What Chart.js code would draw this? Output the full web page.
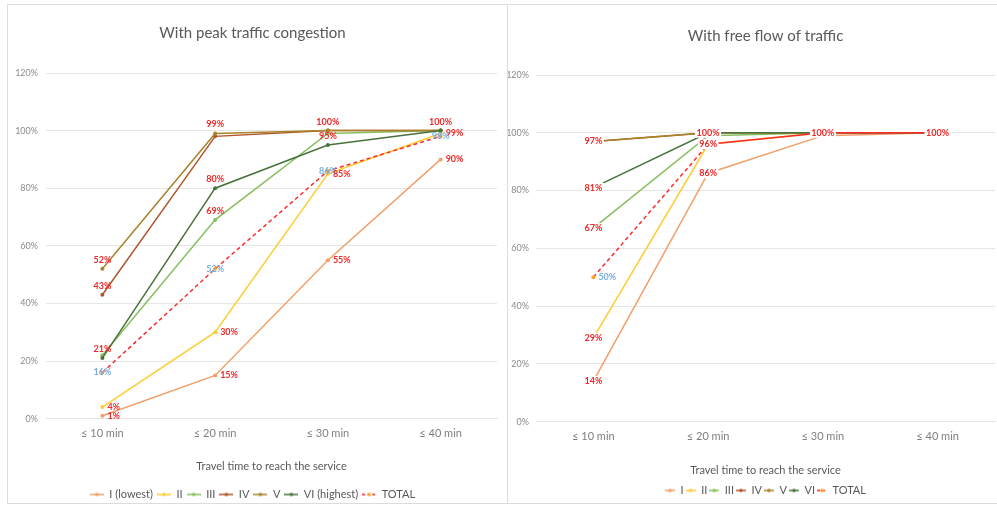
<!DOCTYPE html>
<html><head><meta charset="utf-8">
<script src="https://cdn.jsdelivr.net/npm/chart.js@4"></script>
<style>
body{margin:0;background:#fff;width:997px;height:505px;overflow:hidden;position:relative;font-family:Lato,sans-serif}
.panel{position:absolute;border:1px solid #dcdcdc;box-sizing:border-box}
#p1{left:7px;top:4px;width:501px;height:500px}
#p2{left:507px;top:4px;width:495px;height:500px}
.wrap{position:absolute}
#w1{left:8px;top:5px;width:498px;height:505px}
#w2{left:508px;top:5px;width:491px;height:501px}
</style></head>
<body>
<div class="panel" id="p1"></div><div class="panel" id="p2"></div>
<div class="wrap" id="w1"><canvas id="c1"></canvas></div>
<div class="wrap" id="w2"><canvas id="c2"></canvas></div>
<script>
// ---- data ----
const categories = ['≤ 10 min', '≤ 20 min', '≤ 30 min', '≤ 40 min'];
const yTickValues = [0, 20, 40, 60, 80, 100, 120];
const seriesNamesPeak = ['I (lowest)', 'II', 'III', 'IV', 'V', 'VI (highest)', 'TOTAL'];
const seriesNamesFree = ['I', 'II', 'III', 'IV', 'V', 'VI', 'TOTAL'];

const peakI     = [1, 15, 55, 90];
const peakII    = [4, 30, 85, 99];
const peakIII   = [22, 69, 99, 100];
const peakIV    = [43, 98, 100, 100];
const peakV     = [52, 99, 100, 100];
const peakVI    = [21, 80, 95, 100];
const peakTOTAL = [16, 52, 86, 98];

const freeI     = [14, 86, 99, 100];
const freeII    = [29, 96, 100, 100];
const freeIII   = [67, 99, 100, 100];
const freeIV    = [97, 100, 100, 100];
const freeV     = [97, 100, 100, 100];
const freeVI    = [81, 100, 100, 100];
const freeTOTAL = [50, 96, 100, 100];

// ---- styles ----
const colors = ['#F0A06A', '#FFCC33', '#86BF5F', '#B0552C', '#A8832A', '#47733A', '#FF2A2A'];
const markerColors = ['#F0A06A', '#FFCC33', '#86BF5F', '#B0552C', '#A8832A', '#47733A', '#FFA020'];
const RED = '#F02828', BLUE = '#7BAFDF';

// label specs: [datasetIndex, pointIndex, position, color]
const peakLabels = [
  [4,0,'above',RED],[3,0,'above',RED],[5,0,'above',RED],[6,0,'center',BLUE],[1,0,'right',RED],[0,0,'right',RED],
  [4,1,'above',RED],[5,1,'above',RED],[2,1,'above',RED],[6,1,'center',BLUE],[1,1,'right',RED],[0,1,'right',RED],
  [4,2,'above',RED],[5,2,'above',RED],[6,2,'center',BLUE],[1,2,'right',RED],[0,2,'right',RED],
  [4,3,'above',RED],[1,3,'right',RED],[6,3,'center',BLUE],[0,3,'right',RED]
];
const freeLabels = [
  [4,0,'center',RED],[5,0,'center',RED],[2,0,'center',RED],[6,0,'right',BLUE],[1,0,'center',RED],[0,0,'center',RED],
  [4,1,'center',RED],[6,1,'center',RED],[0,1,'center',RED],
  [6,2,'center',RED],[6,3,'center',RED]
];

function legendIcon(color, dot, dash, w) {
  const c = document.createElement('canvas'); c.width = w; c.height = 6;
  const g = c.getContext('2d');
  g.strokeStyle = color; g.lineWidth = 1.5;
  if (dash) g.setLineDash([3, 2]);
  g.beginPath(); g.moveTo(0, 3); g.lineTo(w, 3); g.stroke();
  g.fillStyle = dot; g.beginPath(); g.arc(w / 2, 3, 1.8, 0, Math.PI * 2); g.fill();
  return c;
}

const valueLabels = {
  id: 'valueLabels',
  afterDatasetsDraw(chart, args, opts) {
    const ctx = chart.ctx; ctx.save();
    ctx.font = 'bold 9px Lato'; ctx.textBaseline = 'middle'; ctx.textAlign = 'center';
    (opts.items || []).forEach(([ds, i, pos, color]) => {
      const pt = chart.getDatasetMeta(ds).data[i];
      const t = chart.data.datasets[ds].data[i] + '%';
      const w = ctx.measureText(t).width;
      let x = pt.x, y = pt.y;
      if (pos === 'above') y -= 9;
      else if (pos === 'right') x += 5 + w / 2;
      else if (pos === 'left') x -= 5 + w / 2;
      if (opts.bg) { ctx.fillStyle = '#fff'; ctx.fillRect(x - w / 2 - 1.5, y - 5, w + 3, 10); }
      ctx.fillStyle = color; ctx.fillText(t, x, y);
    });
    ctx.restore();
  }
};

function makeChart(id, names, series, cfg) {
  const datasets = series.map((d, i) => ({
    label: names[i], data: d,
    borderColor: colors[i], backgroundColor: markerColors[i],
    pointBackgroundColor: markerColors[i], pointBorderColor: markerColors[i],
    borderWidth: 1.5, pointRadius: 2, pointBorderWidth: 0, tension: 0,
    borderDash: i === 6 ? [4, 3] : [],
    segment: (i === 6 && cfg.totalSolidAfterFirst) ? { borderDash: c => c.p0DataIndex === 0 ? [4, 3] : [] } : undefined,
    order: -i
  }));
  const icons = names.map((n, i) => legendIcon(colors[i], markerColors[i], i === 6, cfg.iconW));
  return new Chart(document.getElementById(id), {
    type: 'line',
    data: { labels: categories, datasets },
    plugins: [valueLabels],
    options: {
      responsive: true, maintainAspectRatio: false, animation: false,
      layout: { padding: { top: 0, bottom: 0, left: 0, right: cfg.padRight } },
      scales: {
        x: {
          offset: true,
          grid: { display: false },
          border: { display: true, color: '#e3e3e3' },
          ticks: { color: '#7f7f7f', font: { size: 11, family: 'Lato' }, padding: cfg.xTickPad, maxRotation: 0 },
          title: { display: true, text: 'Travel time to reach the service', color: '#595959',
                   font: { size: 11, family: 'Lato' }, padding: { top: cfg.xtPadTop, bottom: cfg.xtPadBottom } }
        },
        y: {
          min: 0, max: 120,
          afterBuildTicks: s => { s.ticks = yTickValues.map(v => ({ value: v })); },
          afterFit: s => { s.width = cfg.yWidth; },
          grid: { color: '#e6e6e6', drawTicks: false },
          border: { display: false },
          ticks: { color: '#8c8c8c', font: { size: 9, family: 'Lato' }, padding: cfg.yTickPad, callback: v => v + '%' }
        }
      },
      plugins: {
        tooltip: { enabled: false },
        title: { display: true, text: cfg.title, color: '#595959', fullSize: cfg.fullSize,
                 font: { size: cfg.titleSize, family: 'Lato', weight: 'normal' },
                 padding: { top: cfg.tPadTop, bottom: cfg.tPadBottom } },
        legend: {
          position: 'bottom', fullSize: cfg.fullSize,
          labels: {
            usePointStyle: true, pointStyleWidth: cfg.iconW, boxHeight: 6, padding: cfg.legPad,
            color: '#595959', font: { size: 11, family: 'Lato' },
            generateLabels: ch => ch.data.datasets.map((d, i) => ({
              text: d.label, pointStyle: icons[i], fillStyle: 'rgba(0,0,0,0)', strokeStyle: 'rgba(0,0,0,0)',
              lineWidth: 0, hidden: false, datasetIndex: i, fontColor: '#595959'
            }))
          }
        },
        valueLabels: { items: cfg.labels, bg: cfg.labelBg }
      }
    }
  });
}

makeChart('c1', seriesNamesPeak, [peakI, peakII, peakIII, peakIV, peakV, peakVI, peakTOTAL], {
  title: 'With peak traffic congestion', titleSize: 15, tPadTop: 19, tPadBottom: 31,
  yWidth: 38, yTickPad: 8, padRight: 9, xTickPad: 0, xtPadTop: 20, xtPadBottom: 12, legPad: 4, iconW: 14,
  fullSize: true, labels: peakLabels, labelBg: false, totalSolidAfterFirst: false
});
makeChart('c2', seriesNamesFree, [freeI, freeII, freeIII, freeIV, freeV, freeVI, freeTOTAL], {
  title: 'With free flow of traffic', titleSize: 15, tPadTop: 22, tPadBottom: 30,
  yWidth: 28, yTickPad: 7, padRight: 0, xTickPad: 0, xtPadTop: 21, xtPadBottom: 6, legPad: 2, iconW: 10,
  fullSize: false, labels: freeLabels, labelBg: true, totalSolidAfterFirst: true
});
</script>
</body></html>
